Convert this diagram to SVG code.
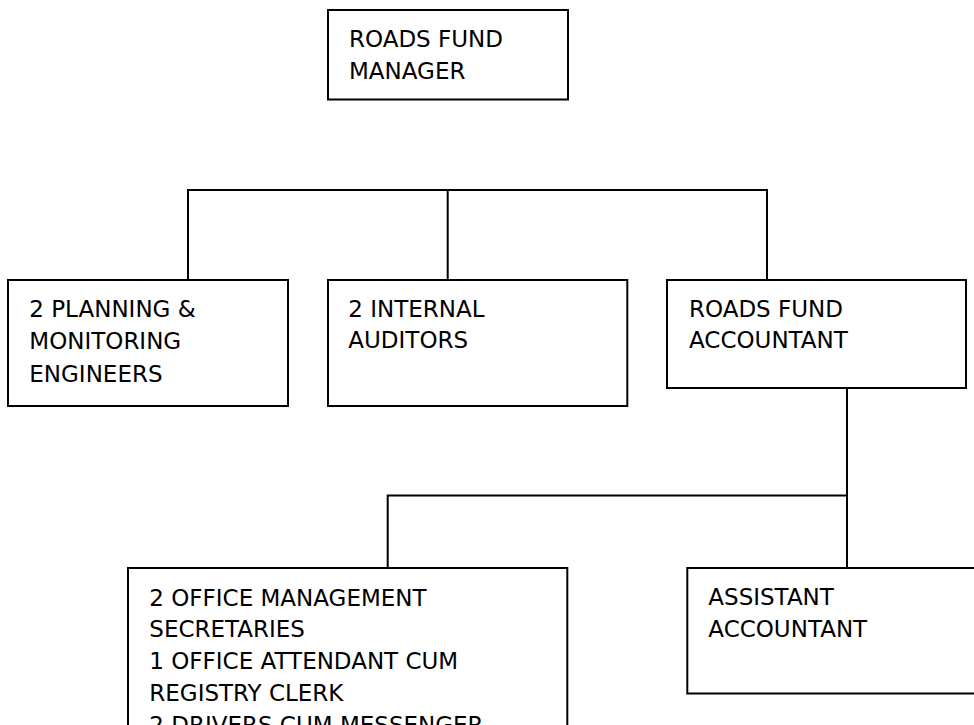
<svg xmlns="http://www.w3.org/2000/svg" width="974" height="725" viewBox="0 0 974 725">
<style>
.box{fill:#fff;stroke:#000;stroke-width:2}
.con{fill:none;stroke:#000;stroke-width:2}
text{font-family:"DejaVu Sans","Liberation Sans",sans-serif;font-size:23px;fill:#000}
</style>
<rect width="974" height="725" fill="#fff"/>
<g id="connectors">
<path class="con" d="M188 280 V190 H767 V280 M447.7 190 V280"/>
<path class="con" d="M847 388 V568 M847 495.5 H387.7 V568"/>
</g>
<g id="manager">
<rect class="box" x="328" y="10" width="240" height="89.5"/>
<text x="349" y="46.7">ROADS FUND</text>
<text x="349" y="79.3">MANAGER</text>
</g>
<g id="engineers">
<rect class="box" x="8" y="280" width="280" height="126"/>
<text x="29.3" y="316.7">2 PLANNING &amp;</text>
<text x="29.3" y="349">MONITORING</text>
<text x="29.3" y="381.7">ENGINEERS</text>
</g>
<g id="auditors">
<rect class="box" x="328" y="280" width="299.3" height="126"/>
<text x="348.3" y="316.7">2 INTERNAL</text>
<text x="348.3" y="348.3">AUDITORS</text>
</g>
<g id="accountant">
<rect class="box" x="667" y="280" width="299" height="108"/>
<text x="689" y="316.7">ROADS FUND</text>
<text x="689" y="348.3">ACCOUNTANT</text>
</g>
<g id="office">
<rect class="box" x="128" y="568" width="439.3" height="200"/>
<text x="149.3" y="605.7">2 OFFICE MANAGEMENT</text>
<text x="149.3" y="637">SECRETARIES</text>
<text x="149.3" y="669">1 OFFICE ATTENDANT CUM</text>
<text x="149.3" y="700.7">REGISTRY CLERK</text>
<text x="149.3" y="732.7">2 DRIVERS CUM MESSENGER</text>
</g>
<g id="assistant">
<rect class="box" x="687.3" y="568" width="300" height="125.5"/>
<text x="708.3" y="605">ASSISTANT</text>
<text x="708.3" y="636.7">ACCOUNTANT</text>
</g>
</svg>
